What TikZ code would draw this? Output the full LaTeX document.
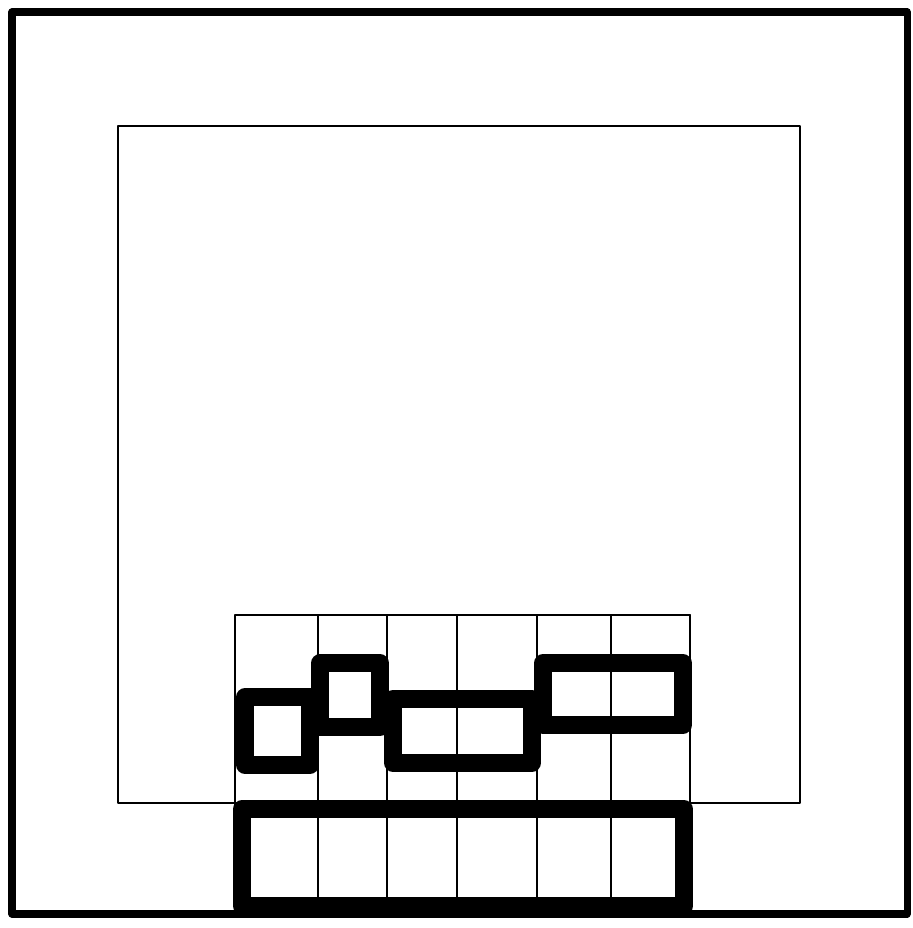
\documentclass[tikz,border=0pt]{standalone}
\usepackage{tikz}
\usetikzlibrary{calc}
\usepackage{xcolor}
\definecolor{SketchInk}{HTML}{000000}
\definecolor{SketchPaper}{HTML}{FFFFFF}

\begin{document}
\begin{tikzpicture}[x=0.02cm,y=-0.02cm,line join=round,line cap=round,
    frame/.style={draw=SketchInk,line width=4pt},
    room/.style={draw=SketchInk,line width=1.4pt},
    gridline/.style={draw=SketchInk,line width=1.1pt},
    block/.style={draw=SketchInk,line width=10pt}]
  \fill[SketchPaper] (0,0) rectangle (912,928);
  \useasboundingbox (0,0) rectangle (912,928);
  % outer and inner outlines
  \draw[frame] (12,12) rectangle (907,914);
  \draw[room] (118,126) rectangle (800,803);
  % grid of columns
  \draw[gridline] (235,615) -- (690,615);
  \foreach \x in {235,318,387,457,537,611,690}{\draw[gridline] (\x,615) -- (\x,906);}
  % base bar
  \draw[block] (242,809) rectangle (684,906);
  % small blocks
  \draw[block] (245,697) rectangle (310,765);
  \draw[block] (320,663) rectangle (380,727);
  \draw[block] (393,699) rectangle (532,763);
  \draw[block] (543,663) rectangle (683,725);
\end{tikzpicture}
\end{document}
